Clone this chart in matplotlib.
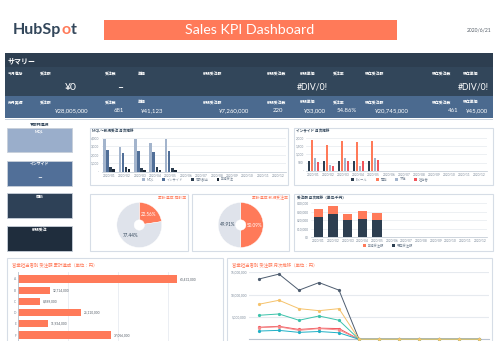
import matplotlib.pyplot as plt
import numpy as np
from matplotlib.patches import Rectangle
from matplotlib.ticker import FuncFormatter

plt.rcParams['font.family'] = ['Lato', 'Noto Sans CJK JP', 'DejaVu Sans']

W, H = 500, 357

# ---- data ----
months = ['2020/01', '2020/02', '2020/03', '2020/04', '2020/05', '2020/06',
          '2020/07', '2020/08', '2020/09', '2020/10', '2020/11', '2020/12']

kpi_cols = ['受注額', '受注数', '単価', '新規受注額', '新規受注数', '新規単価',
            '受注率', '既存受注額', '既存受注数', '既存単価']
this_month = ['¥0', '–', '', '', '', '#DIV/0!', '', '', '', '#DIV/0!']
last_month = ['¥28,005,000', '681', '¥41,123', '¥7,260,000', '220', '¥33,000',
              '54.86%', '¥20,745,000', '461', '¥45,000']

side_buttons = ['MQL', 'インサイド', '商談', '新規受注']

funnel_labels = ['MQL', 'インサイド', '商談創出', '新規受注']
mql = [3850, 2870, 3850, 3340, 3850]
inside = [2550, 2160, 2430, 2350, 2430]
deals = [590, 520, 400, 590, 400]
won = [280, 260, 220, 230, 220]

call_labels = ['Eメール', '電話', '不在', '担当者']
email = [620, 620, 600, 590, 590]
phone = [1860, 1560, 1800, 1760, 1800]
absent = [760, 360, 760, 320, 760]
contact = [520, 320, 620, 600, 640]

deal_rate = [22.56, 77.44]
won_rate = [50.09, 49.91]

sales_labels = ['新規受注額', '既存受注額']
new_sales = [9000, 8500, 7000, 9500, 7260]
exist_sales = [24000, 28000, 20000, 21000, 20745]

reps = ['A', 'B', 'C', 'D', 'E', 'F']
rep_total = [63432000, 12714000, 8589000, 25110000, 11934000, 37056000]
rep_monthly = {
    'A': [13500000, 14600000, 11000000, 12700000, 11000000, 0, 0, 0, 0, 0, 0, 0],
    'B': [2700000, 2900000, 2200000, 2500000, 2400000, 0, 0, 0, 0, 0, 0, 0],
    'E': [2600000, 2800000, 2000000, 2400000, 2100000, 0, 0, 0, 0, 0, 0, 0],
    'C': [1850000, 2000000, 1550000, 1750000, 1450000, 0, 0, 0, 0, 0, 0, 0],
    'D': [5380000, 5670000, 4260000, 5220000, 4260000, 0, 0, 0, 0, 0, 0, 0],
    'F': [7850000, 8740000, 6860000, 6410000, 6860000, 0, 0, 0, 0, 0, 0, 0],
}

# ---- colours ----
ORANGE = '#ff7a59'
NAVY = '#2d3e50'
SLATE = '#33475b'
GRAYTXT = '#7c8a9a'
BORDER = '#d6dde6'
rep_colors = {'A': '#4e5d70', 'B': '#f2545b', 'E': '#f58c8c', 'C': '#1fb0c6',
              'D': '#3cc3ab', 'F': '#f5c26b'}

fig = plt.figure(figsize=(5, 3.57), dpi=100)


def fx(x):
    return x / W


def fy(y):
    return 1 - y / H


def rect(x0, y0, x1, y1, color, ec='none', lw=0, z=-5):
    fig.add_artist(Rectangle((fx(x0), fy(y1)), (x1 - x0) / W, (y1 - y0) / H,
                             transform=fig.transFigure, facecolor=color,
                             edgecolor=ec, linewidth=lw, zorder=z))


def txt(x, y, s, **kw):
    kw.setdefault('va', 'center')
    return fig.text(fx(x), fy(y), s, **kw)


def axes_px(x0, y0, x1, y1):
    ax = fig.add_axes([fx(x0), fy(y1), (x1 - x0) / W, (y1 - y0) / H])
    ax.set_facecolor('none')
    return ax


def style(ax, fmt):
    for s in ['top', 'right', 'left']:
        ax.spines[s].set_visible(False)
    ax.spines['bottom'].set_color('#b9c3cf')
    ax.spines['bottom'].set_linewidth(0.5)
    ax.tick_params(length=0, labelsize=2.3, labelcolor=GRAYTXT, pad=1.5)
    ax.yaxis.set_major_formatter(FuncFormatter(fmt))
    ax.grid(axis='y', color='#e6eaef', lw=0.5)
    ax.set_axisbelow(True)


# ---- header ----
renderer = fig.canvas.get_renderer()
t = txt(13, 30, 'HubSp', color=SLATE, fontsize=11.5, weight='bold')
bb = t.get_window_extent(renderer)
t = fig.text(bb.x1 / fig.bbox.width, fy(30), 'o', color=ORANGE, fontsize=11.5,
             weight='bold', va='center')
bb = t.get_window_extent(renderer)
fig.text(bb.x1 / fig.bbox.width, fy(30), 't', color=SLATE, fontsize=11.5,
         weight='bold', va='center')

rect(104, 20, 397, 39.5, ORANGE)
txt(250, 30, 'Sales KPI Dashboard', color='white', fontsize=10.3, ha='center')
txt(491.7, 30.5, '2020/6/21', color='#555e68', fontsize=3.6, ha='right')

# ---- summary ----
rect(5, 53, 493, 67, NAVY)
txt(7.5, 60.5, 'サマリー', color='white', fontsize=5, weight='bold')
rect(5, 67, 493, 96.5, '#32465a')
rect(5, 96.5, 493, 118.5, '#4b6a8f')
rect(5, 118.5, 493, 120, '#c9d3de')

label_x = [40, 105, 138, 203, 267, 300, 333, 365, 432, 463]
row1_right = [77, 123, 0, 0, 0, 328, 0, 0, 0, 489]
row2_right = [88, 124, 163, 249, 283, 326, 357, 409, 458, 488]

txt(7.5, 74, '今月進捗', color='white', fontsize=2.8, weight='bold')
txt(7.5, 102.3, '先月実績', color='white', fontsize=2.8, weight='bold')
for i, col in enumerate(kpi_cols):
    txt(label_x[i], 74, col, color='white', fontsize=2.8, weight='bold')
    txt(label_x[i], 102.3, col, color='white', fontsize=2.8, weight='bold')
    if this_month[i]:
        big = this_month[i] in ('¥0', '–')
        txt(row1_right[i], 87.5, this_month[i], color='white', ha='right',
            fontsize=7.5 if big else 6.2, weight='bold' if this_month[i] == '–' else 'normal')
    txt(row2_right[i], 110.5, last_month[i], color='white', ha='right', fontsize=4.3)

# ---- side buttons ----
txt(40, 124.3, '▼部門選択', color=SLATE, fontsize=2.8, weight='bold', ha='center')
btn_y = [(127.7, 152.3), (160.7, 185.7), (193.3, 218.3), (226, 251)]
btn_col = ['#9aaecb', '#516f98', '#2e4157', '#1f2d3d']
for (y0, y1), name, c in zip(btn_y, side_buttons, btn_col):
    rect(6.7, y0, 72.3, y1, c, ec='#c8d0da', lw=0.6)
    txt(39.5, y0 + 3.5, name, color='white', fontsize=2.8, weight='bold', ha='center')
txt(39.5, 177.3, '–', color='white', fontsize=6, weight='bold', ha='center')

# ---- panels ----
for x0, y0, x1, y1 in [(90, 128, 288, 184.5), (294, 128, 493, 184.5),
                       (90, 194, 188, 250.5), (192, 194, 289, 250.5),
                       (294, 194, 493, 250.5), (6.7, 258.3, 222.7, 350),
                       (226.7, 258.3, 492, 350)]:
    rect(x0, y0, x1, y1, 'white', ec=BORDER, lw=0.8)

idx = np.arange(len(months))
k = np.arange(5)


def comma_dash(v, p):
    return '-' if v == 0 else f'{v:,.0f}'


# chart 1: funnel monthly
txt(92.5, 131.7, 'MQL〜新規受注 月次推移', color=SLATE, fontsize=2.6, weight='bold')
ax = axes_px(101.5, 137.7, 286, 171.7)
w = 0.2
for j, (vals, c) in enumerate(zip([mql, inside, deals, won], ['#a3b4cc', '#516f98', '#2d3e50', '#1b2735'])):
    ax.bar(k + (j - 1.5) * w, vals, w * 0.85, color=c, label=funnel_labels[j])
ax.set_xlim(-0.5, 11.5)
ax.set_ylim(0, 4000)
ax.set_yticks([0, 1000, 2000, 3000, 4000])
ax.set_xticks(idx)
ax.set_xticklabels(months)
style(ax, comma_dash)
ax.legend(loc='center', bbox_to_anchor=(fx(188), fy(179.5)), bbox_transform=fig.transFigure,
          ncol=4, frameon=False, fontsize=2.3, handlelength=0.9, handleheight=0.9,
          columnspacing=2.5, handletextpad=0.6, labelcolor=GRAYTXT)

# chart 2: inside sales monthly
txt(296, 131.7, 'インサイド 月次推移', color=SLATE, fontsize=2.6, weight='bold')
ax = axes_px(305.8, 137.7, 486.8, 171)
for j, (vals, c) in enumerate(zip([email, phone, absent, contact], [NAVY, ORANGE, '#a3b4cc', '#f2545b'])):
    ax.bar(k + (j - 1.5) * w, vals, w * 0.85, color=c, label=call_labels[j])
ax.set_xlim(-0.5, 11.5)
ax.set_ylim(0, 2000)
ax.set_yticks([0, 500, 1000, 1500, 2000])
ax.set_xticks(idx)
ax.set_xticklabels(months)
style(ax, comma_dash)
ax.legend(loc='center', bbox_to_anchor=(fx(390), fy(179.5)), bbox_transform=fig.transFigure,
          ncol=4, frameon=False, fontsize=2.3, handlelength=0.9, handleheight=0.9,
          columnspacing=2.5, handletextpad=0.6, labelcolor=GRAYTXT)

# donuts
for cx, title, vals in [(139.3, '累計達成 商談率', deal_rate), (240.7, '累計達成 新規受注率', won_rate)]:
    ax = axes_px(cx - 22.5, 225 - 22.5, cx + 22.5, 225 + 22.5)
    wedges, texts, pcts = ax.pie(vals, colors=[ORANGE, '#dfe3eb'], startangle=90,
                                 counterclock=False, radius=1,
                                 wedgeprops=dict(width=0.77, edgecolor='white', linewidth=0.3),
                                 autopct='%.2f%%', pctdistance=0.6,
                                 textprops=dict(fontsize=3.3))
    pcts[0].set_color('white')
    pcts[1].set_color(SLATE)
    ax.set_xlim(-1, 1)
    ax.set_ylim(-1, 1)
    ax.set_aspect('equal')
    txt(cx + 47, 197.7, title, color=ORANGE, fontsize=2.8, ha='right')

# stacked sales
txt(296.7, 197.5, '受注額 月次推移（単位:千円）', color=SLATE, fontsize=2.6, weight='bold')
ax = axes_px(311, 203.3, 487.3, 237.3)
ax.bar(k, exist_sales, 0.63, color=NAVY, label=sales_labels[1], zorder=2)
ax.bar(k, new_sales, 0.63, bottom=exist_sales, color=ORANGE, label=sales_labels[0], zorder=2)
ax.set_xlim(-0.5, 11.5)
ax.set_ylim(0, 40000)
ax.set_yticks([0, 10000, 20000, 30000, 40000])
ax.set_xticks(idx)
ax.set_xticklabels(months)
style(ax, lambda v, p: f'¥{v:,.0f}')
hs, ls = ax.get_legend_handles_labels()
ax.legend(hs[::-1], ls[::-1], loc='center', bbox_to_anchor=(fx(388), fy(245.7)),
          bbox_transform=fig.transFigure, ncol=2, frameon=False, fontsize=2.3,
          handlelength=0.9, handleheight=0.9, columnspacing=2.5, handletextpad=0.6,
          labelcolor=GRAYTXT)

# horizontal bars per rep
txt(11.7, 265, '営業担当者別 受注額 累計達成（単位：円）', color=ORANGE, fontsize=3.2)
ax = axes_px(18.3, 271.7, 218.3, 341)
ax.barh(np.arange(len(reps)), rep_total, 0.65, color=ORANGE, zorder=2)
for i, v in enumerate(rep_total):
    ax.text(v + 1.2e6, i, f'{v:,.0f}', fontsize=2.3, color='#555e68', va='center')
ax.set_ylim(5.53, -0.65)
ax.set_xlim(0, 80e6)
ax.set_xticks([0, 20e6, 40e6, 60e6, 80e6])
ax.set_yticks(np.arange(len(reps)))
ax.set_yticklabels(reps)
for s in ['top', 'right', 'bottom']:
    ax.spines[s].set_visible(False)
ax.spines['left'].set_color('#b9c3cf')
ax.spines['left'].set_linewidth(0.6)
ax.tick_params(length=0, labelsize=2.3, labelcolor=GRAYTXT, pad=1.5)
ax.set_xticklabels([])
ax.grid(axis='x', color='#e3e8ee', lw=0.5)
ax.set_axisbelow(True)

# monthly lines per rep
txt(232.3, 265, '営業担当者別 受注額 月次推移（単位：円）', color=ORANGE, fontsize=3.2)
ax = axes_px(249, 272.3, 489, 339.3)
for name in ['A', 'B', 'E', 'C', 'D', 'F']:
    ax.plot(idx, rep_monthly[name], '-o', color=rep_colors[name], lw=0.7, ms=1.3,
            clip_on=False, zorder=3)
ax.set_xlim(-0.5, 11.5)
ax.set_ylim(0, 15e6)
ax.set_yticks([0, 5e6, 10e6, 15e6])
ax.set_xticks([])
style(ax, lambda v, p: '' if v == 0 else f'{v:,.0f}')
ax.spines['bottom'].set_linewidth(0.8)
ax.grid(axis='y', color='#e6eaef', lw=0.8)

# page is cut off below the last row
rect(0, 341, 500, 357, 'white', z=10)

fig.savefig('out.png', dpi=100)
